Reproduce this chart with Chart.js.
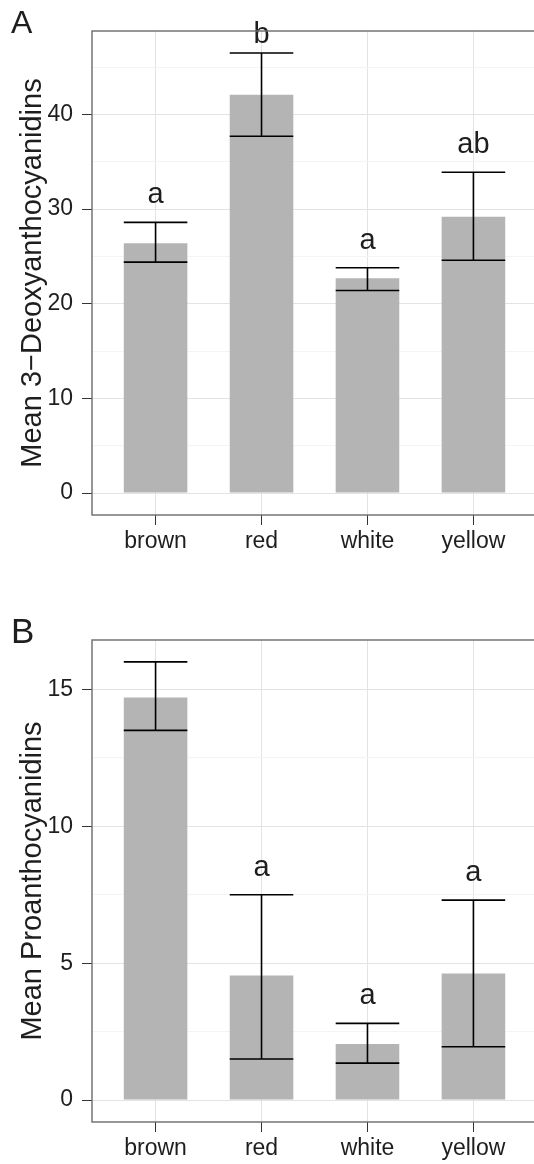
<!DOCTYPE html>
<html>
<head>
<meta charset="utf-8">
<script src="https://cdn.jsdelivr.net/npm/chart.js@4.4.1/dist/chart.umd.min.js"></script>
<style>
  html, body { margin: 0; padding: 0; background: #fff; overflow: hidden; }
  #wrap { position: relative; width: 534px; height: 1164px; overflow: hidden; }
  canvas { position: absolute; left: 0; }
  #chartA { top: 0; }
  #chartB { top: 580px; }
</style>
</head>
<body>
<div id="wrap">
  <canvas id="chartA" width="545" height="580"></canvas>
  <canvas id="chartB" width="545" height="584"></canvas>
</div>
<script>
const categories = ['brown', 'red', 'white', 'yellow'];

// A: 3-deoxyanthocyanidins, mean with lower/upper error limits
const deoxyMean = [26.4, 42.1, 22.7, 29.2];
const deoxyLower = [24.4, 37.7, 21.4, 24.6];
const deoxyUpper = [28.6, 46.5, 23.8, 33.9];
const deoxyGroups = ['a', 'b', 'a', 'ab'];
const deoxyTicks = [0, 5, 10, 15, 20, 25, 30, 35, 40, 45];

// B: proanthocyanidins
const proMean = [14.7, 4.55, 2.05, 4.62];
const proLower = [13.5, 1.5, 1.35, 1.95];
const proUpper = [16.0, 7.5, 2.8, 7.3];
const proGroups = ['', 'a', 'a', 'a'];
const proTicks = [0, 2.5, 5, 7.5, 10, 12.5, 15];

const FONT = '"Liberation Sans", Arial, Helvetica, sans-serif';
const TEXT = '#1e1e1e';

// error bars with caps as wide as the bar, plus the group letter above
function errorBarPlugin(lower, upper, groups) {
    return {
        id: 'errorBars',
        afterDatasetsDraw(chart) {
            const { ctx, chartArea, scales: { x, y } } = chart;
            const bars = chart.getDatasetMeta(0).data;
            ctx.save();
            ctx.strokeStyle = '#000';
            ctx.lineWidth = 1.6;
            lower.forEach((lo, i) => {
                const cx = x.getPixelForValue(i + 1);
                const half = bars[i].width / 2;
                const yLo = y.getPixelForValue(lo);
                const yHi = y.getPixelForValue(upper[i]);
                ctx.beginPath();
                ctx.moveTo(cx, yLo); ctx.lineTo(cx, yHi);
                ctx.moveTo(cx - half, yLo); ctx.lineTo(cx + half, yLo);
                ctx.moveTo(cx - half, yHi); ctx.lineTo(cx + half, yHi);
                ctx.stroke();

                if (groups[i]) {
                    ctx.fillStyle = TEXT;
                    ctx.font = '29px ' + FONT;
                    ctx.textAlign = 'center';
                    ctx.textBaseline = 'alphabetic';
                    const base = Math.max(yHi - 19, chartArea.top + 12);
                    ctx.fillText(groups[i], cx, base);
                }
            });
            ctx.restore();
        }
    };
}

// panel frame and the panel tag in the corner
function framePlugin(tag, tagY, tagSize) {
    return {
        id: 'frame',
        afterDraw(chart) {
            const { ctx, chartArea: a } = chart;
            ctx.save();
            ctx.strokeStyle = '#6b6b6b';
            ctx.lineWidth = 1.4;
            ctx.strokeRect(a.left, a.top, a.right - a.left, a.bottom - a.top);
            ctx.fillStyle = TEXT;
            ctx.font = tagSize + 'px ' + FONT;
            ctx.textAlign = 'left';
            ctx.textBaseline = 'alphabetic';
            ctx.fillText(tag, 11, tagY);
            ctx.restore();
        }
    };
}

function buildPanel(id, opts) {
    const top = Math.max(...opts.upper);
    const yMin = -0.05 * top;
    const yMax = top * 1.05;
    const isMajor = v => v % opts.majorStep === 0;

    return new Chart(document.getElementById(id), {
        type: 'bar',
        data: {
            datasets: [{
                data: opts.mean.map((v, i) => ({ x: i + 1, y: v })),
                backgroundColor: '#b4b4b4',
                borderWidth: 0,
                categoryPercentage: 1,
                barPercentage: 0.6
            }]
        },
        options: {
            responsive: false,
            animation: false,
            devicePixelRatio: 1,
            layout: { padding: { top: opts.padTop, right: 8, left: 0, bottom: 0 } },
            plugins: {
                legend: { display: false },
                tooltip: { enabled: false }
            },
            scales: {
                x: {
                    type: 'linear',
                    min: 0.4,
                    max: 4.6,
                    offset: false,
                    afterBuildTicks: s => { s.ticks = categories.map((c, i) => ({ value: i + 1 })); },
                    afterFit: s => { s.height = opts.xHeight; },
                    border: { display: false },
                    grid: { offset: false, color: '#e3e3e3', tickColor: '#333', tickLength: 10 },
                    ticks: {
                        callback: (v, i) => categories[i],
                        autoSkip: false,
                        maxRotation: 0,
                        padding: 3,
                        color: TEXT,
                        font: { family: FONT, size: 23 }
                    }
                },
                y: {
                    min: yMin,
                    max: yMax,
                    afterBuildTicks: s => { s.ticks = opts.ticks.map(v => ({ value: v })); },
                    afterFit: s => { s.width = 92; },
                    border: { display: false },
                    grid: {
                        color: c => isMajor(c.tick.value) ? '#e3e3e3' : '#f4f4f4',
                        tickColor: c => isMajor(c.tick.value) ? '#333' : 'rgba(0,0,0,0)',
                        tickLength: 10
                    },
                    ticks: {
                        callback: v => isMajor(v) ? v : '',
                        autoSkip: false,
                        padding: 9,
                        color: TEXT,
                        font: { family: FONT, size: 23 }
                    },
                    title: {
                        display: true,
                        text: opts.title,
                        color: TEXT,
                        font: { family: FONT, size: 29 },
                        padding: { top: 16, bottom: 0 }
                    }
                }
            }
        },
        plugins: [
            errorBarPlugin(opts.lower, opts.upper, opts.groups),
            framePlugin(opts.tag, opts.tagY, opts.tagSize)
        ]
    });
}

buildPanel('chartA', {
    mean: deoxyMean, lower: deoxyLower, upper: deoxyUpper, groups: deoxyGroups,
    ticks: deoxyTicks, majorStep: 10,
    title: 'Mean 3\u2212Deoxyanthocyanidins',
    tag: 'A', tagY: 33, tagSize: 32,
    padTop: 31, xHeight: 65
});

buildPanel('chartB', {
    mean: proMean, lower: proLower, upper: proUpper, groups: proGroups,
    ticks: proTicks, majorStep: 5,
    title: 'Mean Proanthocyanidins',
    tag: 'B', tagY: 63, tagSize: 35,
    padTop: 60, xHeight: 42
});
</script>
</body>
</html>
